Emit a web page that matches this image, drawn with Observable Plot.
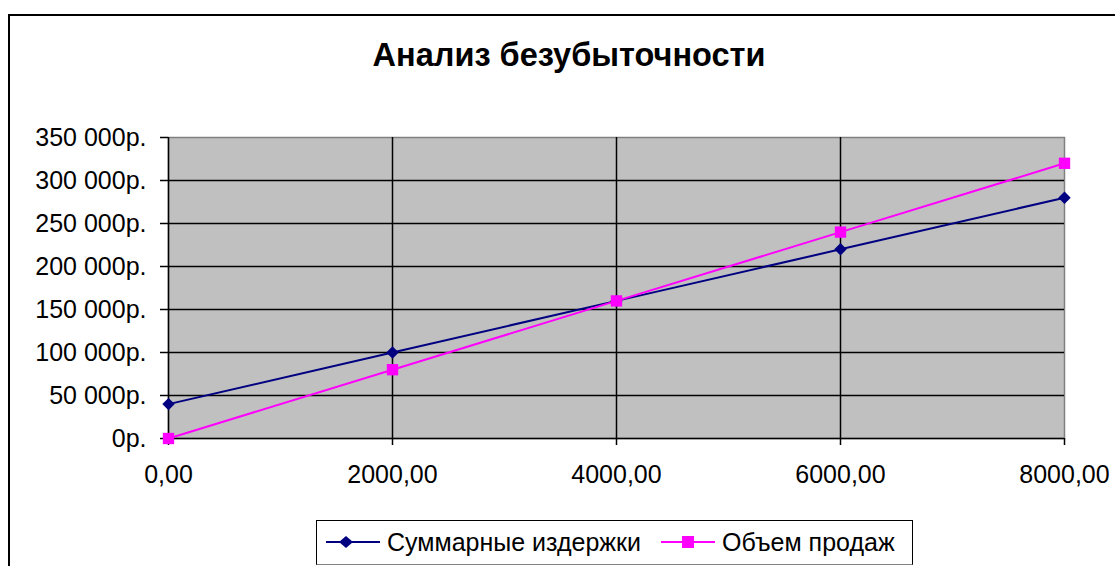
<!DOCTYPE html>
<html>
<head>
<meta charset="utf-8">
<script src="https://cdn.jsdelivr.net/npm/d3@7"></script>
<script src="https://cdn.jsdelivr.net/npm/@observablehq/plot@0.6"></script>
<style>
  html, body { margin: 0; padding: 0; background: #fff; overflow: hidden; }
  body { width: 1115px; height: 566px; position: relative; font-family: "Liberation Sans", Arial, sans-serif; }
  #border { position: absolute; left: 8px; top: 14px; width: 1200px; height: 700px; border-top: 2px solid #000; border-left: 2px solid #000; box-sizing: border-box; }
  #title { position: absolute; left: 0; width: 1138px; top: 37px; text-align: center; font-weight: bold; font-size: 32.5px; color: #000; }
  #chart { position: absolute; left: 0; top: 120px; }
  #legend { position: absolute; left: 316px; top: 520px; width: 597px; height: 45px; border: 1.5px solid #000; border-bottom-color: #808080; box-sizing: border-box; font-size: 25px; color: #000; white-space: nowrap; }
  #legend .sw { position: absolute; top: 11px; display: block; }
  #legend .tx { position: absolute; top: 9px; line-height: 25px; }
</style>
</head>
<body>
<div id="border"></div>
<div id="title">Анализ безубыточности</div>
<div id="chart"></div>
<div id="legend"></div>
<script>
const units = [0, 2000, 4000, 6000, 8000];
const totalCosts = [40000, 100000, 160000, 220000, 280000];
const salesVolume = [0, 80000, 160000, 240000, 320000];
const seriesNames = ["Суммарные издержки", "Объем продаж"];
const seriesColors = ["#000080", "#FF00FF"];
const yTicks = [0, 50000, 100000, 150000, 200000, 250000, 300000, 350000];
const xTicks = [0, 2000, 4000, 6000, 8000];

const costs = units.map((u, i) => ({x: u, y: totalCosts[i]}));
const sales = units.map((u, i) => ({x: u, y: salesVolume[i]}));

const fmtY = d => d3.format(",")(d).replace(/,/g, " ") + "р.";
const fmtX = d => d.toFixed(2).replace(".", ",");

const chart = Plot.plot({
  width: 1115,
  height: 380,
  marginLeft: 168,
  marginRight: 51,
  marginTop: 17,
  marginBottom: 62,
  style: {fontFamily: "'Liberation Sans', Arial, sans-serif", fontSize: "25px", color: "#000", background: "transparent"},
  x: {domain: [0, 8000], ticks: xTicks, tickFormat: fmtX, tickSize: 7, tickPadding: 20, label: null},
  y: {domain: [0, 350000], ticks: yTicks, tickFormat: fmtY, tickSize: 8, tickPadding: 14, label: null},
  marks: [
    Plot.frame({fill: "#C0C0C0", stroke: "#808080", strokeWidth: 1.5}),
    Plot.gridY(yTicks.filter(t => t > 0 && t < 350000), {stroke: "#000", strokeOpacity: 1, strokeWidth: 1.5}),
    Plot.gridX(xTicks.filter(t => t > 0 && t < 8000), {stroke: "#000", strokeOpacity: 1, strokeWidth: 1.5}),
    Plot.ruleX([0], {stroke: "#000", strokeWidth: 1.5}),
    Plot.ruleY([0], {stroke: "#000", strokeWidth: 1.5}),
    Plot.axisX({ticks: xTicks, tickFormat: fmtX, tickSize: 7, tickPadding: 20, stroke: "#000", strokeWidth: 1.5}),
    Plot.axisY({ticks: yTicks, tickFormat: fmtY, tickSize: 8, tickPadding: 14, stroke: "#000", strokeWidth: 1.5}),
    Plot.line(costs, {x: "x", y: "y", stroke: seriesColors[0], strokeWidth: 2}),
    Plot.line(sales, {x: "x", y: "y", stroke: seriesColors[1], strokeWidth: 2}),
    Plot.dot(costs, {x: "x", y: "y", symbol: "diamond2", r: 5.6, fill: seriesColors[0], stroke: "none"}),
    Plot.dot(sales, {x: "x", y: "y", symbol: "square", r: 6.4, fill: seriesColors[1], stroke: "none"})
  ]
});
document.getElementById("chart").appendChild(chart);

// legend (positions relative to legend box)
const legend = document.getElementById("legend");
const swatchLeft = [9, 344];
const textLeft = [70, 405];
seriesNames.forEach((name, i) => {
  const sym = i === 0
    ? `<path d="M20,-6 L27,0 L20,6 L13,0 Z" fill="${seriesColors[i]}"/>`
    : `<rect x="21" y="-6" width="12" height="12" fill="${seriesColors[i]}"/>`;
  const sw = document.createElementNS("http://www.w3.org/2000/svg", "svg");
  sw.setAttribute("class", "sw");
  sw.setAttribute("width", "54");
  sw.setAttribute("height", "20");
  sw.setAttribute("viewBox", "0 -10 54 20");
  sw.style.left = swatchLeft[i] + "px";
  sw.innerHTML = `<line x1="0" x2="54" y1="0" y2="0" stroke="${seriesColors[i]}" stroke-width="2"/>${sym}`;
  legend.appendChild(sw);
  const tx = document.createElement("span");
  tx.className = "tx";
  tx.style.left = textLeft[i] + "px";
  tx.textContent = name;
  legend.appendChild(tx);
});
</script>
</body>
</html>
